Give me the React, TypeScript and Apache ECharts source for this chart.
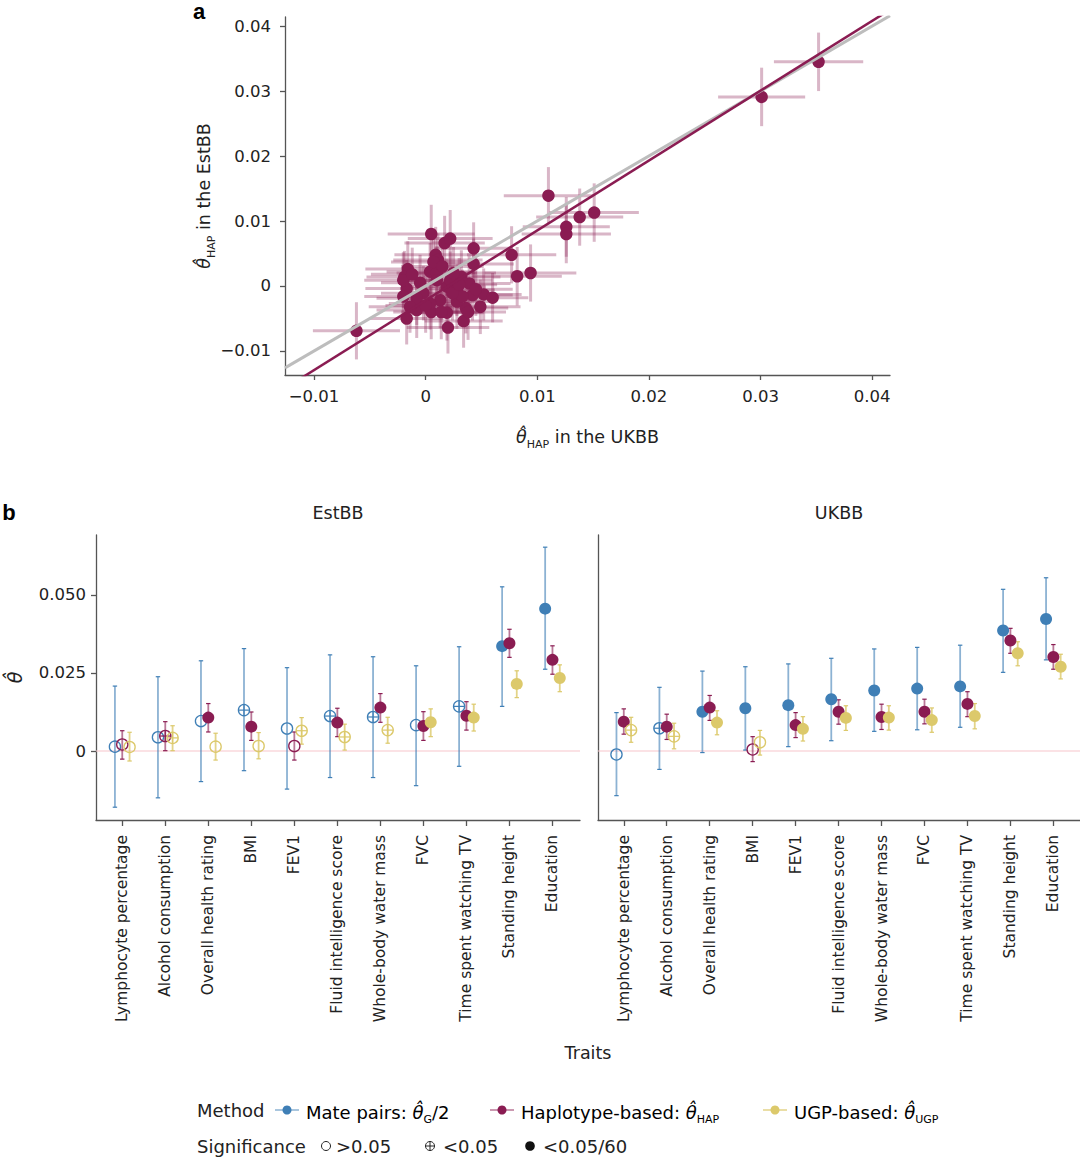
import React, { useEffect, useRef } from 'react';
import * as echarts from 'echarts';

// ---------- Panel a data ----------
const hapUKBB = [0.0352, 0.0301, 0.0110, 0.0138, 0.0151, 0.0126, 0.0126, 0.0082, 0.0094, 0.0077, 0.0005,
  0.0017, 0.0022, 0.0043, 0.0009, 0.0011, 0.0043, -0.0016, -0.0019, -0.0017, -0.0020, -0.0017, -0.0008, -0.0062,
  0.0005, 0.0020, 0.0034, 0.0019, 0.0036, 0.0049, 0.0052, 0.0060, 0.0039, 0.0004, 0.0010, 0.0019, 0.0028, -0.0002,
  -0.0008, 0.0013, 0.0004, 0.0028, 0.0042, 0.0022, 0.0032, 0.0010, -0.0014, 0.0014, 0.0033, -0.0020, 0.0007, 0.0024,
  0.0030, 0.0015, -0.0005, 0.0045, 0.0000, 0.0025, 0.0038, -0.0012];
const hapEstBB = [0.0345, 0.0291, 0.0139, 0.0106, 0.0113, 0.0091, 0.0080, 0.0015, 0.0020, 0.0048, 0.0080,
  0.0066, 0.0073, 0.0058, 0.0048, 0.0040, 0.0034, 0.0026, 0.0014, -0.0004, -0.0016, -0.0050, -0.0037, -0.0069,
  -0.0040, -0.0064, -0.0054, -0.0041, -0.0034, -0.0032, -0.0013, -0.0018, 0.0004, 0.0022, 0.0020, -0.0001, -0.0006, -0.0011,
  -0.0019, -0.0022, -0.0027, -0.0024, -0.0014, 0.0009, 0.0014, 0.0009, -0.0032, -0.0040, -0.0016, 0.0009, 0.0037, -0.0011,
  0.0002, 0.0030, 0.0005, -0.0005, -0.0030, 0.0020, -0.0040, 0.0018];
const errUKBB = [0.0040, 0.0039, 0.0040, 0.0039, 0.0040, 0.0039, 0.0040, 0.0040, 0.0041, 0.0040, 0.0039,
  0.0036, 0.0038, 0.0035, 0.0037, 0.0040, 0.0036, 0.0038, 0.0034, 0.0037, 0.0035, 0.0033, 0.0036, 0.0039,
  0.0034, 0.0037, 0.0035, 0.0033, 0.0038, 0.0036, 0.0034, 0.0032, 0.0037, 0.0039, 0.0036, 0.0035, 0.0034, 0.0038,
  0.0036, 0.0035, 0.0037, 0.0033, 0.0036, 0.0038, 0.0035, 0.0034, 0.0037, 0.0036, 0.0033, 0.0035, 0.0038, 0.0036,
  0.0034, 0.0037, 0.0035, 0.0033, 0.0036, 0.0038, 0.0034, 0.0037];
const errEstBB = [0.0045, 0.0045, 0.0044, 0.0044, 0.0045, 0.0046, 0.0045, 0.0045, 0.0044, 0.0044, 0.0045,
  0.0042, 0.0044, 0.0040, 0.0043, 0.0041, 0.0039, 0.0043, 0.0040, 0.0044, 0.0041, 0.0040, 0.0043, 0.0044,
  0.0042, 0.0040, 0.0041, 0.0043, 0.0039, 0.0042, 0.0040, 0.0038, 0.0042, 0.0044, 0.0041, 0.0043, 0.0040, 0.0042,
  0.0041, 0.0043, 0.0040, 0.0042, 0.0039, 0.0044, 0.0041, 0.0043, 0.0040, 0.0042, 0.0041, 0.0043, 0.0040, 0.0042,
  0.0041, 0.0040, 0.0043, 0.0041, 0.0042, 0.0040, 0.0043, 0.0041];
const fitSlope = 1.075;
const fitIntercept = -0.0022;
const aTicksX = [-0.01, 0, 0.01, 0.02, 0.03, 0.04];
const aTicksY = [-0.01, 0, 0.01, 0.02, 0.03, 0.04];

// ---------- Panel b data ----------
const traits = ['Lymphocyte percentage', 'Alcohol consumption', 'Overall health rating', 'BMI', 'FEV1',
  'Fluid intelligence score', 'Whole-body water mass', 'FVC', 'Time spent watching TV', 'Standing height', 'Education'];
const bTicksY = [0, 0.025, 0.05];

// significance: 0 = >0.05 (open), 1 = <0.05 (crossed), 2 = <0.05/60 (filled)
const estbbMateEst = [0.0014, 0.0044, 0.0096, 0.0131, 0.0072, 0.0112, 0.0109, 0.0083, 0.0143, 0.0336, 0.0456];
const estbbMateLo = [-0.0180, -0.0150, -0.0098, -0.0063, -0.0122, -0.0085, -0.0085, -0.0111, -0.0049, 0.0143, 0.0262];
const estbbMateHi = [0.0208, 0.0238, 0.0289, 0.0328, 0.0267, 0.0308, 0.0302, 0.0273, 0.0334, 0.0526, 0.0653];
const estbbMateSig = [0, 0, 0, 1, 0, 1, 1, 0, 1, 2, 2];

const estbbHapEst = [0.0021, 0.0048, 0.0107, 0.0078, 0.0016, 0.0091, 0.0139, 0.0080, 0.0113, 0.0345, 0.0292];
const estbbHapLo = [-0.0026, 0.0001, 0.0061, 0.0034, -0.0029, 0.0046, 0.0092, 0.0034, 0.0067, 0.0300, 0.0246];
const estbbHapHi = [0.0065, 0.0094, 0.0152, 0.0125, 0.0061, 0.0137, 0.0184, 0.0126, 0.0158, 0.0390, 0.0337];
const estbbHapSig = [0, 1, 2, 2, 0, 2, 2, 2, 2, 2, 2];

const estbbUgpEst = [0.0013, 0.0042, 0.0014, 0.0016, 0.0065, 0.0045, 0.0067, 0.0092, 0.0107, 0.0215, 0.0234];
const estbbUgpLo = [-0.0032, 0.0001, -0.0029, -0.0025, 0.0022, 0.0003, 0.0025, 0.0046, 0.0064, 0.0171, 0.0190];
const estbbUgpHi = [0.0060, 0.0081, 0.0057, 0.0059, 0.0107, 0.0086, 0.0108, 0.0135, 0.0150, 0.0257, 0.0276];
const estbbUgpSig = [0, 1, 0, 0, 1, 1, 1, 2, 2, 2, 2];

const ukbbMateEst = [-0.0011, 0.0073, 0.0126, 0.0137, 0.0147, 0.0166, 0.0194, 0.0200, 0.0207, 0.0386, 0.0423];
const ukbbMateLo = [-0.0143, -0.0059, -0.0005, 0.0003, 0.0014, 0.0033, 0.0063, 0.0068, 0.0076, 0.0252, 0.0292];
const ukbbMateHi = [0.0123, 0.0204, 0.0256, 0.0270, 0.0279, 0.0297, 0.0327, 0.0332, 0.0339, 0.0518, 0.0555];
const ukbbMateSig = [0, 1, 2, 2, 2, 2, 2, 2, 2, 2, 2];

const ukbbHapEst = [0.0094, 0.0078, 0.0139, 0.0005, 0.0083, 0.0126, 0.0109, 0.0126, 0.0151, 0.0354, 0.0301];
const ukbbHapLo = [0.0054, 0.0037, 0.0098, -0.0034, 0.0043, 0.0086, 0.0069, 0.0087, 0.0110, 0.0313, 0.0262];
const ukbbHapHi = [0.0135, 0.0118, 0.0178, 0.0046, 0.0123, 0.0164, 0.0150, 0.0166, 0.0190, 0.0393, 0.0341];
const ukbbHapSig = [2, 2, 2, 0, 2, 2, 2, 2, 2, 2, 2];

const ukbbUgpEst = [0.0067, 0.0047, 0.0091, 0.0028, 0.0071, 0.0106, 0.0107, 0.0099, 0.0112, 0.0313, 0.0270];
const ukbbUgpLo = [0.0028, 0.0007, 0.0052, -0.0013, 0.0032, 0.0066, 0.0067, 0.0060, 0.0071, 0.0273, 0.0231];
const ukbbUgpHi = [0.0108, 0.0089, 0.0129, 0.0066, 0.0110, 0.0145, 0.0145, 0.0138, 0.0152, 0.0350, 0.0310];
const ukbbUgpSig = [1, 1, 2, 0, 2, 2, 2, 2, 2, 2, 2];

// ---------- styles ----------
const FONT = 'DejaVu Sans';
const TXT = '#222';
const AX = '#555';
const BLUE = '#3f7fb6';
const MAROON = '#8a1c52';
const YELLOW = '#dcc96b';
const BAR = ['rgba(63,127,182,0.6)', 'rgba(138,28,82,0.6)', 'rgba(220,201,107,0.8)'];
const COLS = [BLUE, MAROON, YELLOW];
const DODGE = [-0.17, 0, 0.17];

const fmtA = (v: number) => (Math.abs(v) < 1e-9 ? '0' : (v < 0 ? '\u2212' : '') + Math.abs(v).toFixed(2));
const fmtB = (v: number) => (Math.abs(v) < 1e-9 ? '0' : v.toFixed(3));

const subRich = (fs: number) => ({
  n: { fontFamily: FONT, fontSize: fs, color: TXT, lineHeight: fs + 8, verticalAlign: 'middle' },
  t: { fontFamily: FONT, fontSize: fs, color: TXT, fontStyle: 'italic', lineHeight: fs + 8, verticalAlign: 'middle' },
  s: { fontFamily: FONT, fontSize: Math.round(fs * 0.62), color: TXT, lineHeight: Math.round(fs * 0.62) + 2, verticalAlign: 'bottom' },
});

export default function App() {
  const ref = useRef<HTMLDivElement>(null);
  useEffect(() => {
    document.body.style.margin = '0';
    const chart = echarts.init(ref.current!, undefined, { renderer: 'svg' });

    const aXMin = -0.0126, aXMax = 0.0416, aYMin = -0.0137, aYMax = 0.0414;
    const bYMin = -0.0221, bYMax = 0.0692;
    const bXRange = [[-0.61, 10.64], [-0.6, 10.62]];

    const panelB = [
      [[estbbMateEst, estbbMateLo, estbbMateHi, estbbMateSig], [estbbHapEst, estbbHapLo, estbbHapHi, estbbHapSig], [estbbUgpEst, estbbUgpLo, estbbUgpHi, estbbUgpSig]],
      [[ukbbMateEst, ukbbMateLo, ukbbMateHi, ukbbMateSig], [ukbbHapEst, ukbbHapLo, ukbbHapHi, ukbbHapSig], [ukbbUgpEst, ukbbUgpLo, ukbbUgpHi, ukbbUgpSig]],
    ];

    const series: any[] = [];

    // Panel a error bars
    series.push({
      type: 'custom', xAxisIndex: 0, yAxisIndex: 0, z: 2,
      data: hapUKBB.map((x, i) => [x, hapEstBB[i], errUKBB[i], errEstBB[i]]),
      encode: { x: 0, y: 1 },
      renderItem: (_p: any, api: any) => {
        const x = api.value(0), y = api.value(1), xe = api.value(2), ye = api.value(3);
        const a = api.coord([x - xe, y]), b = api.coord([x + xe, y]);
        const c = api.coord([x, y - ye]), d = api.coord([x, y + ye]);
        const st = { stroke: 'rgba(138,28,82,0.32)', lineWidth: 3 };
        return {
          type: 'group', children: [
            { type: 'line', shape: { x1: a[0], y1: a[1], x2: b[0], y2: b[1] }, style: st },
            { type: 'line', shape: { x1: c[0], y1: c[1], x2: d[0], y2: d[1] }, style: st },
          ],
        };
      },
    });
    series.push({
      type: 'scatter', xAxisIndex: 0, yAxisIndex: 0, z: 3,
      symbolSize: 12.5, itemStyle: { color: MAROON, opacity: 1 },
      data: hapUKBB.map((x, i) => [x, hapEstBB[i]]),
    });
    // identity & fit lines
    series.push({
      type: 'line', xAxisIndex: 0, yAxisIndex: 0, z: 4, clip: true, symbol: 'none',
      lineStyle: { color: '#bdbdbd', width: 3 },
      data: [[aXMin, aXMin], [aXMax, aXMax]],
    });
    series.push({
      type: 'line', xAxisIndex: 0, yAxisIndex: 0, z: 4, clip: true, symbol: 'none',
      lineStyle: { color: MAROON, width: 2.5 },
      data: [[aXMin, fitSlope * aXMin + fitIntercept], [aXMax, fitSlope * aXMax + fitIntercept]],
    });

    // Panel b
    panelB.forEach((panel, pi) => {
      const ax = pi + 1;
      series.push({
        type: 'line', xAxisIndex: ax, yAxisIndex: ax, z: 1, symbol: 'none', silent: true,
        lineStyle: { color: '#f7c6cb', width: 1.2 },
        data: [[bXRange[pi][0], 0], [bXRange[pi][1], 0]],
      });
      panel.forEach((m, mi) => {
        const [est, lo, hi] = m;
        series.push({
          type: 'custom', xAxisIndex: ax, yAxisIndex: ax, z: 2,
          data: est.map((v, i) => [i + DODGE[mi], v, lo[i], hi[i]]),
          encode: { x: 0, y: 1 },
          renderItem: (_p: any, api: any) => {
            const x = api.value(0);
            const a = api.coord([x, api.value(2)]), b = api.coord([x, api.value(3)]);
            const st = { stroke: BAR[mi], lineWidth: 1.8 };
            const cst = { stroke: COLS[mi], lineWidth: 1.2 };
            return {
              type: 'group', children: [
                { type: 'line', shape: { x1: a[0], y1: a[1], x2: b[0], y2: b[1] }, style: st },
                { type: 'line', shape: { x1: a[0] - 2.2, y1: a[1], x2: a[0] + 2.2, y2: a[1] }, style: cst },
                { type: 'line', shape: { x1: b[0] - 2.2, y1: b[1], x2: b[0] + 2.2, y2: b[1] }, style: cst },
              ],
            };
          },
        });
      });
      panel.forEach((m, mi) => {
        const [est, , , sig] = m;
        series.push({
          type: 'custom', xAxisIndex: ax, yAxisIndex: ax, z: 3,
          data: est.map((v, i) => [i + DODGE[mi], v, sig[i]]),
          encode: { x: 0, y: 1 },
          renderItem: (_p: any, api: any) => {
            const c = api.coord([api.value(0), api.value(1)]);
            const s = api.value(2);
            const col = COLS[mi];
            if (s === 2) {
              return { type: 'circle', shape: { cx: c[0], cy: c[1], r: 6 }, style: { fill: col } };
            }
            const r = 5.6;
            const children: any[] = [
              { type: 'circle', shape: { cx: c[0], cy: c[1], r }, style: { fill: 'none', stroke: col, lineWidth: 1.3 } },
            ];
            if (s === 1) {
              children.push({ type: 'line', shape: { x1: c[0] - r, y1: c[1], x2: c[0] + r, y2: c[1] }, style: { stroke: col, lineWidth: 1.2 } });
              children.push({ type: 'line', shape: { x1: c[0], y1: c[1] - r, x2: c[0], y2: c[1] + r }, style: { stroke: col, lineWidth: 1.2 } });
            }
            return { type: 'group', children };
          },
        });
      });
    });

    const axisLine = { show: true, onZero: false, lineStyle: { color: AX, width: 1.3 } };
    const labelStyle = { fontFamily: FONT, color: TXT };

    const bXAxis = (gi: number, rng: number[]) => ({
      type: 'value', gridIndex: gi, min: rng[0], max: rng[1],
      axisLine, splitLine: { show: false },
      axisTick: { show: true, length: 6, lineStyle: { color: AX, width: 1.3 }, customValues: traits.map((_, i) => i) },
      axisLabel: {
        ...labelStyle, fontSize: 15.5, rotate: 90, margin: 15,
        customValues: traits.map((_, i) => i),
        formatter: (v: number) => traits[Math.round(v)] ?? '',
      },
    });

    const option: any = {
      animation: false,
      grid: [
        { left: 285, top: 17, width: 605, height: 358 },
        { left: 96, top: 535, width: 484, height: 285 },
        { left: 598, top: 535, width: 482, height: 285 },
      ],
      xAxis: [
        {
          type: 'value', gridIndex: 0, min: aXMin, max: aXMax,
          axisLine, splitLine: { show: false },
          axisTick: { show: true, length: 5, lineStyle: { color: AX, width: 1.3 }, customValues: aTicksX },
          axisLabel: { ...labelStyle, fontSize: 16.5, margin: 13, customValues: aTicksX, formatter: fmtA },
          name: '{t|θ̂}{s|HAP}{n| in the UKBB}', nameLocation: 'middle', nameGap: 49,
          nameTextStyle: { rich: subRich(17.5) },
        },
        bXAxis(1, bXRange[0]),
        bXAxis(2, bXRange[1]),
      ],
      yAxis: [
        {
          type: 'value', gridIndex: 0, min: aYMin, max: aYMax,
          axisLine, splitLine: { show: false },
          axisTick: { show: true, length: 5, lineStyle: { color: AX, width: 1.3 }, customValues: aTicksY },
          axisLabel: { ...labelStyle, fontSize: 16.5, margin: 14, customValues: aTicksY, formatter: fmtA },
          name: '{t|θ̂}{s|HAP}{n| in the EstBB}', nameLocation: 'middle', nameGap: 68, nameRotate: 90,
          nameMoveOverlap: false,
          nameTextStyle: { rich: subRich(17.5) },
        },
        {
          type: 'value', gridIndex: 1, min: bYMin, max: bYMax,
          axisLine, splitLine: { show: false },
          axisTick: { show: true, length: 5, lineStyle: { color: AX, width: 1.3 }, customValues: bTicksY },
          axisLabel: { ...labelStyle, fontSize: 16.5, margin: 10, customValues: bTicksY, formatter: fmtB },
          name: 'θ̂', nameLocation: 'middle', nameGap: 72, nameRotate: 90,
          nameMoveOverlap: false,
          nameTextStyle: { fontFamily: FONT, fontSize: 19, fontStyle: 'italic', color: TXT },
        },
        {
          type: 'value', gridIndex: 2, min: bYMin, max: bYMax,
          axisLine, splitLine: { show: false },
          axisTick: { show: false }, axisLabel: { show: false },
        },
      ],
      graphic: [
        { type: 'text', x: 199, y: 11, style: { text: 'a', fontFamily: 'Liberation Sans', fontWeight: 'bold', fontSize: 22, fill: '#000', align: 'center', verticalAlign: 'middle' } },
        { type: 'text', x: 9, y: 512, style: { text: 'b', fontFamily: 'Liberation Sans', fontWeight: 'bold', fontSize: 22, fill: '#000', align: 'center', verticalAlign: 'middle' } },
        { type: 'text', x: 338, y: 513, style: { text: 'EstBB', fontFamily: FONT, fontSize: 17.5, fill: TXT, align: 'center', verticalAlign: 'middle' } },
        { type: 'text', x: 839, y: 513, style: { text: 'UKBB', fontFamily: FONT, fontSize: 17.5, fill: TXT, align: 'center', verticalAlign: 'middle' } },
        { type: 'text', x: 588, y: 1053, style: { text: 'Traits', fontFamily: FONT, fontSize: 17.5, fill: TXT, align: 'center', verticalAlign: 'middle' } },
        // legend row 1
        { type: 'text', x: 197, y: 1110, style: { text: 'Method', fontFamily: FONT, fontSize: 18, fill: TXT, verticalAlign: 'middle' } },
        { type: 'line', shape: { x1: 275, y1: 1110, x2: 299, y2: 1110 }, style: { stroke: BAR[0], lineWidth: 1.5 } },
        { type: 'circle', shape: { cx: 287, cy: 1110, r: 4.5 }, style: { fill: BLUE } },
        { type: 'text', x: 306, y: 1112, style: { text: '{n|Mate pairs: }{t|θ̂}{s|G}{n|/2}', rich: subRich(18), verticalAlign: 'middle' } },
        { type: 'line', shape: { x1: 490, y1: 1110, x2: 514, y2: 1110 }, style: { stroke: BAR[1], lineWidth: 1.5 } },
        { type: 'circle', shape: { cx: 502, cy: 1110, r: 4.5 }, style: { fill: MAROON } },
        { type: 'text', x: 521, y: 1112, style: { text: '{n|Haplotype-based: }{t|θ̂}{s|HAP}', rich: subRich(18), verticalAlign: 'middle' } },
        { type: 'line', shape: { x1: 763, y1: 1110, x2: 787, y2: 1110 }, style: { stroke: BAR[2], lineWidth: 1.5 } },
        { type: 'circle', shape: { cx: 775, cy: 1110, r: 4.5 }, style: { fill: YELLOW } },
        { type: 'text', x: 794, y: 1112, style: { text: '{n|UGP-based: }{t|θ̂}{s|UGP}', rich: subRich(18), verticalAlign: 'middle' } },
        // legend row 2
        { type: 'text', x: 197, y: 1146, style: { text: 'Significance', fontFamily: FONT, fontSize: 18, fill: TXT, verticalAlign: 'middle' } },
        { type: 'circle', shape: { cx: 326, cy: 1146, r: 4.5 }, style: { fill: 'none', stroke: '#222', lineWidth: 1 } },
        { type: 'text', x: 336, y: 1146, style: { text: '>0.05', fontFamily: FONT, fontSize: 18, fill: TXT, verticalAlign: 'middle' } },
        { type: 'circle', shape: { cx: 430, cy: 1146, r: 4.5 }, style: { fill: 'none', stroke: '#222', lineWidth: 1 } },
        { type: 'line', shape: { x1: 425.5, y1: 1146, x2: 434.5, y2: 1146 }, style: { stroke: '#222', lineWidth: 1 } },
        { type: 'line', shape: { x1: 430, y1: 1141.5, x2: 430, y2: 1150.5 }, style: { stroke: '#222', lineWidth: 1 } },
        { type: 'text', x: 443, y: 1146, style: { text: '<0.05', fontFamily: FONT, fontSize: 18, fill: TXT, verticalAlign: 'middle' } },
        { type: 'circle', shape: { cx: 530, cy: 1146, r: 4.8 }, style: { fill: '#111' } },
        { type: 'text', x: 543, y: 1146, style: { text: '<0.05/60', fontFamily: FONT, fontSize: 18, fill: TXT, verticalAlign: 'middle' } },
      ],
      series,
    };
    chart.setOption(option);
    return () => chart.dispose();
  }, []);
  return <div ref={ref} style={{ width: 1080, height: 1157, position: 'absolute', left: 0, top: 0 }} />;
}
